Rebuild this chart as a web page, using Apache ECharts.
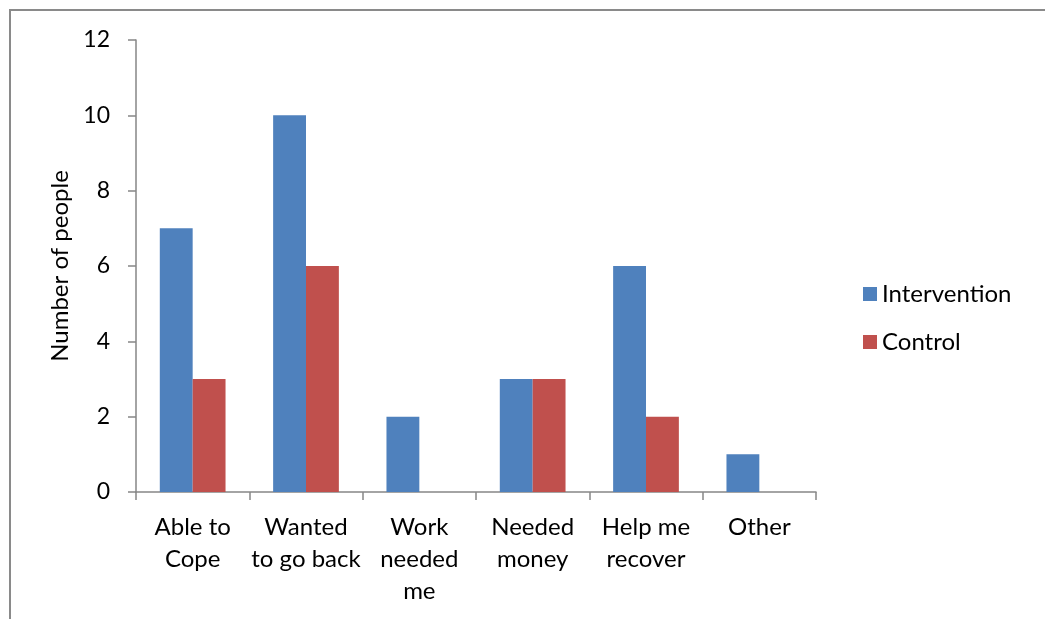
<!DOCTYPE html>
<html>
<head>
<meta charset="utf-8">
<script src="https://cdn.jsdelivr.net/npm/echarts@6/dist/echarts.min.js"></script>
<style>
  html, body { margin: 0; padding: 0; background: #fff; }
  #chart { width: 1045px; height: 619px; }
</style>
</head>
<body>
<div id="chart"></div>
<script>
// Reasons for returning to work, by study group
const categories = ['Able to\nCope', 'Wanted\nto go back', 'Work\nneeded\nme', 'Needed\nmoney', 'Help me\nrecover', 'Other'];
const interventionValues = [7, 10, 2, 3, 6, 1];
const controlValues = [3, 6, 0, 3, 2, 0];
const seriesNames = ['Intervention', 'Control'];
const yTicks = { min: 0, max: 12, step: 2 };

const FONT = 'Lato';
const axisGray = '#868686';

const chart = echarts.init(document.getElementById('chart'), null, { renderer: 'canvas' });

chart.setOption({
  animation: false,
  backgroundColor: '#ffffff',
  textStyle: { fontFamily: FONT },
  graphic: [{
    type: 'rect',
    shape: { x: 10, y: 10, width: 1100, height: 700 },
    style: { fill: 'none', stroke: '#8a8a8a', lineWidth: 2 },
    silent: true
  }],
  grid: { left: 136, top: 40, width: 680, height: 452, containLabel: false },
  legend: {
    orient: 'vertical',
    left: 858,
    top: 277,
    itemWidth: 14,
    itemHeight: 14,
    itemGap: 24,
    icon: 'rect',
    data: seriesNames,
    textStyle: { fontFamily: FONT, fontSize: 24, color: '#000', lineHeight: 24 }
  },
  xAxis: {
    type: 'category',
    data: categories,
    boundaryGap: true,
    axisLine: { show: true, lineStyle: { color: axisGray, width: 1.5 } },
    axisTick: { show: true, length: 8, inside: false, alignWithLabel: false, lineStyle: { color: axisGray, width: 1.5 } },
    axisLabel: {
      interval: 0,
      margin: 19,
      color: '#000',
      fontFamily: FONT,
      fontSize: 24,
      lineHeight: 32,
      align: 'center'
    },
    splitLine: { show: false }
  },
  yAxis: {
    type: 'value',
    min: yTicks.min,
    max: yTicks.max,
    interval: yTicks.step,
    name: 'Number of people',
    nameLocation: 'middle',
    nameRotate: 90,
    nameGap: 62,
    nameTextStyle: { fontFamily: FONT, fontSize: 24, color: '#000' },
    axisLine: { show: true, lineStyle: { color: axisGray, width: 1.5 } },
    axisTick: { show: true, length: 8, inside: false, lineStyle: { color: axisGray, width: 1.5 } },
    axisLabel: { margin: 26, color: '#000', fontFamily: FONT, fontSize: 23 },
    splitLine: { show: false }
  },
  series: [
    {
      name: seriesNames[0],
      type: 'bar',
      data: interventionValues,
      itemStyle: { color: '#4F81BD' },
      barGap: '0%',
      barCategoryGap: '42%'
    },
    {
      name: seriesNames[1],
      type: 'bar',
      data: controlValues,
      itemStyle: { color: '#C0504D' },
      barGap: '0%',
      barCategoryGap: '42%'
    }
  ]
});
</script>
</body>
</html>
